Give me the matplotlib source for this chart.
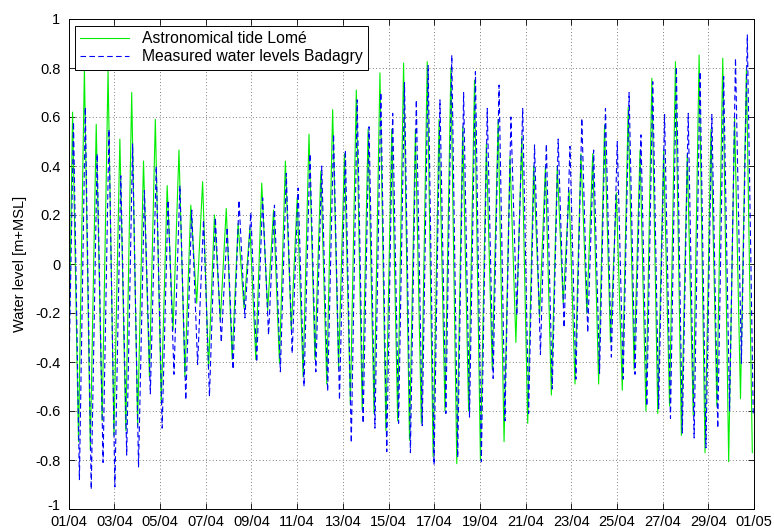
import numpy as np
import matplotlib
matplotlib.use("Agg")
import matplotlib.pyplot as plt
from matplotlib.transforms import ScaledTranslation

plt.rcParams['font.family'] = ['Liberation Sans', 'DejaVu Sans']

# Successive high / low waters over the month (m relative to MSL)
tide_high = [0.62, 0.80, 0.57, 0.79, 0.51, 0.70, 0.42, 0.59, 0.32, 0.465,
             0.24, 0.336, 0.20, 0.227, 0.166, 0.15, 0.33, 0.22, 0.42, 0.27,
             0.53, 0.38, 0.63, 0.45, 0.71, 0.55, 0.78, 0.55, 0.82, 0.55,
             0.826, 0.59, 0.80, 0.56, 0.75, 0.49, 0.59, 0.44, 0.52, 0.40,
             0.40, 0.40, 0.30, 0.45, 0.45, 0.567, 0.29, 0.64, 0.465, 0.758,
             0.465, 0.826, 0.45, 0.853, 0.55, 0.84, 0.60, 0.80]
tide_low = [-0.725, -0.76, -0.64, -0.70, -0.68, -0.66, -0.46, -0.57, -0.27, -0.46,
            -0.16, -0.43, -0.23, -0.39, -0.18, -0.39, -0.19, -0.405, -0.27, -0.46,
            -0.39, -0.49, -0.43, -0.575, -0.596, -0.61, -0.68, -0.64, -0.72, -0.65,
            -0.786, -0.60, -0.815, -0.60, -0.80, -0.43, -0.725, -0.32, -0.65, -0.216,
            -0.535, -0.16, -0.49, -0.20, -0.49, -0.32, -0.515, -0.43, -0.60, -0.61,
            -0.58, -0.70, -0.617, -0.77, -0.58, -0.807, -0.55, -0.77]
meas_high = [0.58, 0.64, 0.45, 0.55, 0.36, 0.49, 0.30, 0.40, 0.26, 0.32,
             0.22, 0.18, 0.19, 0.15, 0.26, 0.21, 0.27, 0.24, 0.37, 0.31,
             0.45, 0.40, 0.53, 0.465, 0.67, 0.56, 0.70, 0.615, 0.74, 0.67,
             0.81, 0.67, 0.853, 0.70, 0.785, 0.635, 0.73, 0.60, 0.635, 0.486,
             0.49, 0.51, 0.48, 0.595, 0.465, 0.635, 0.50, 0.70, 0.527, 0.744,
             0.61, 0.805, 0.615, 0.785, 0.61, 0.765, 0.84, 0.935]
meas_low = [-0.88, -0.92, -0.81, -0.91, -0.78, -0.83, -0.53, -0.67, -0.45, -0.555,
            -0.41, -0.54, -0.32, -0.43, -0.22, -0.40, -0.29, -0.44, -0.365, -0.50,
            -0.44, -0.52, -0.555, -0.73, -0.65, -0.67, -0.766, -0.65, -0.77, -0.66,
            -0.82, -0.61, -0.79, -0.625, -0.807, -0.467, -0.64, -0.21, -0.61, -0.37,
            -0.51, -0.26, -0.47, -0.28, -0.446, -0.38, -0.47, -0.45, -0.58, -0.59,
            -0.63, -0.69, -0.71, -0.75, -0.67, -0.60, -0.405, -0.61]
tide_start = -0.45
meas_start = -0.50

# Timing of the turning points (days after 01/04 00:00)
first_high = 0.17
half_period = 0.25875
measured_lag = 0.04

tick_days = list(range(0, 31, 2))
tick_labels = ['01/04', '03/04', '05/04', '07/04', '09/04', '11/04', '13/04', '15/04',
               '17/04', '19/04', '21/04', '23/04', '25/04', '27/04', '29/04', '01/05']
y_ticks = [-1, -0.8, -0.6, -0.4, -0.2, 0, 0.2, 0.4, 0.6, 0.8, 1]
y_tick_labels = ['-1', '-0.8', '-0.6', '-0.4', '-0.2', '0', '0.2', '0.4', '0.6', '0.8', '1']


def turning_points(start, highs, lows, lag):
    n = len(highs)
    t = [0.0]
    v = [start]
    for k in range(n):
        t.append(first_high + lag + 2 * k * half_period)
        v.append(highs[k])
        t.append(first_high + lag + (2 * k + 1) * half_period)
        v.append(lows[k])
    t = np.array(t)
    v = np.array(v)
    keep = t <= 30.0
    return t[keep], v[keep]


t_tide, v_tide = turning_points(tide_start, tide_high, tide_low, 0.0)
t_meas, v_meas = turning_points(meas_start, meas_high, meas_low, measured_lag)

fig = plt.figure(figsize=(7.74, 5.30), dpi=100)
ax = fig.add_axes([68.7 / 774, 1 - 509 / 530, (754 - 68.7) / 774, 490 / 530])

ax.plot(t_tide, v_tide, color='#00ee00', lw=0.8, label='Astronomical tide Lomé')
ax.plot(t_meas, v_meas, color='#0000ff', lw=0.8, ls=(0, (5, 3)),
        label='Measured water levels Badagry')

ax.set_xlim(0, 30)
ax.set_ylim(-1, 1)
ax.set_xticks(tick_days)
ax.set_xticklabels(tick_labels)
ax.set_yticks(y_ticks)
ax.set_yticklabels(y_tick_labels)
ax.tick_params(direction='in', top=True, right=True, labelsize=10.5, length=4, width=0.6)
ax.tick_params(axis='x', pad=4.5)
ax.tick_params(axis='y', pad=6)
ax.grid(True, ls=(0, (1, 3)), color='#555555', lw=0.6)
for s in ax.spines.values():
    s.set_linewidth(0.7)
ax.set_ylabel('Water level [m+MSL]', fontsize=10.5, labelpad=6)

# lift the bottom y label a little so it clears the first date label
bottom_label = ax.get_yticklabels()[0]
bottom_label.set_transform(bottom_label.get_transform() +
                           ScaledTranslation(0, 3 / 72, fig.dpi_scale_trans))

leg = ax.legend(loc='upper left', bbox_to_anchor=(0.009, 0.986), borderaxespad=0,
                fancybox=False, edgecolor='black', framealpha=1, fontsize=11.3,
                handlelength=3.1, borderpad=0.35, labelspacing=0.2)
leg.get_frame().set_linewidth(0.7)

fig.savefig('out.png', dpi=100)
